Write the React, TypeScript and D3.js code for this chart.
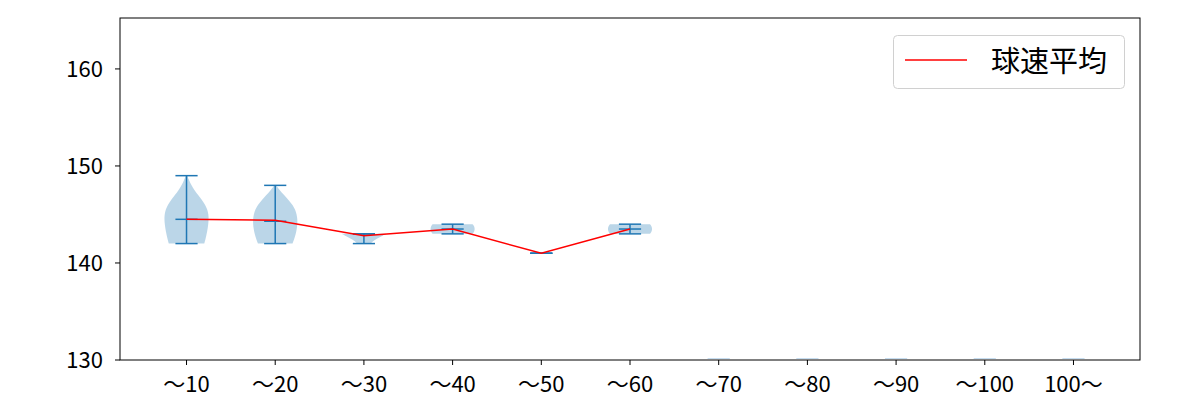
import React from "react";
import * as d3 from "d3";

const categories = ["〜10", "〜20", "〜30", "〜40", "〜50", "〜60", "〜70", "〜80", "〜90", "〜100", "100〜"];
const yTicks = [130, 140, 150, 160];
const meanValues = [144.5, 144.4, 142.8, 143.5, 141, 143.5];
const minValues = [142, 142, 142, 143, 141, 143];
const maxValues = [149, 148, 143, 144, 141, 144];
const medianValues = [144.5, 144.3, 143, 143.5, 141, 143.5];
// violin profiles: [value, relative half-width]
const profile1: [number, number][] = [[149, 0.03], [148.5, 0.12], [148, 0.22], [147.5, 0.36], [147, 0.52], [146.5, 0.7], [146, 0.84], [145.5, 0.94], [145, 0.99], [144.5, 1.0], [144, 0.98], [143.5, 0.95], [143, 0.91], [142.5, 0.86], [142, 0.8]];
const profile2: [number, number][] = [[148, 0.05], [147.5, 0.2], [147, 0.4], [146.5, 0.6], [146, 0.78], [145.5, 0.9], [145, 0.97], [144.5, 1.0], [144, 1.0], [143.5, 0.97], [143, 0.93], [142.5, 0.86], [142, 0.78]];
const profile3: [number, number][] = [[143, 1.0], [142.75, 0.8], [142.5, 0.58], [142.25, 0.4], [142, 0.3]];
const profile4: [number, number][] = [[144, 0.9], [143.75, 0.98], [143.5, 1.0], [143.25, 0.98], [143, 0.9]];
const profile5: [number, number][] = [];
const profile6: [number, number][] = [[144, 0.9], [143.75, 0.98], [143.5, 1.0], [143.25, 0.98], [143, 0.9]];
const profiles = [profile1, profile2, profile3, profile4, profile5, profile6];
const emptyCategories = [7, 8, 9, 10, 11];

const W = 1200, H = 400;
const left = 120, right = 1140, top = 18, bottom = 360;
const font = "'Noto Sans CJK JP', 'Noto Sans', sans-serif";

export default function App() {
  const x = d3.scaleLinear().domain([0.25, 11.75]).range([left, right]);
  const y = d3.scaleLinear().domain([130, 165.25]).range([bottom, top]);
  const halfW = x(1.25) - x(1);
  const capW = x(1.125) - x(1);
  const blue = "#1f77b4";

  const violins = profiles.map((p, i) => {
    if (!p.length) return null;
    const cx = x(i + 1);
    const area = d3.area<[number, number]>()
      .y((d) => y(d[0]))
      .x0((d) => cx - d[1] * halfW)
      .x1((d) => cx + d[1] * halfW)
      .curve(d3.curveBasis);
    return <path key={"v" + i} d={area(p) || ""} fill={blue} fillOpacity={0.3} stroke="none" />;
  });

  const line = d3.line<number>().x((_, i) => x(i + 1)).y((d) => y(d));

  return (
    <svg width={W} height={H} style={{ display: "block", position: "absolute", left: 0, top: 0 }}>
      <rect x={0} y={0} width={W} height={H} fill="white" />
      {violins}
      {emptyCategories.map((c) => (
        <line key={"e" + c} x1={x(c) - capW} x2={x(c) + capW} y1={bottom - 1.5} y2={bottom - 1.5} stroke="#c6ddf0" strokeWidth={1} />
      ))}
      {minValues.map((mn, i) => {
        const cx = x(i + 1);
        return (
          <g key={"c" + i} stroke={blue} strokeWidth={1.5}>
            <line x1={cx} x2={cx} y1={y(mn)} y2={y(maxValues[i])} />
            <line x1={cx - capW} x2={cx + capW} y1={y(mn)} y2={y(mn)} />
            <line x1={cx - capW} x2={cx + capW} y1={y(maxValues[i])} y2={y(maxValues[i])} />
            <line x1={cx - capW} x2={cx + capW} y1={y(medianValues[i])} y2={y(medianValues[i])} />
          </g>
        );
      })}
      <path d={line(meanValues) || ""} fill="none" stroke="red" strokeWidth={1.5} />
      <rect x={left} y={top} width={right - left} height={bottom - top} fill="none" stroke="black" strokeWidth={1} />
      {categories.map((c, i) => (
        <g key={"xt" + i}>
          <line x1={x(i + 1)} x2={x(i + 1)} y1={bottom} y2={bottom + 5} stroke="black" />
          <text x={x(i + 1)} y={bottom + 32} textAnchor="middle" fontSize={22} fontFamily={font}>{c}</text>
        </g>
      ))}
      {yTicks.map((t) => (
        <g key={"yt" + t}>
          <line x1={left - 5} x2={left} y1={y(t)} y2={y(t)} stroke="black" />
          <text x={left - 17} y={y(t) + 8} textAnchor="end" fontSize={22} fontFamily={font}>{t}</text>
        </g>
      ))}
      <rect x={893.5} y={35.5} width={231} height={53} rx={4} fill="white" fillOpacity={0.8} stroke="#d0d0d0" />
      <line x1={905} x2={967} y1={60} y2={60} stroke="red" strokeWidth={1.5} />
      <text x={991} y={72} fontSize={29} fontFamily={font}>球速平均</text>
    </svg>
  );
}
